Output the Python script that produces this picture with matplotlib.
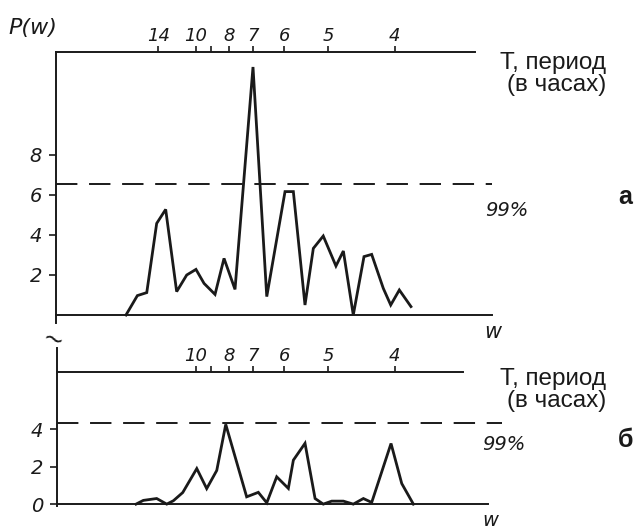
import matplotlib.pyplot as plt
import numpy as np

# Частота w (1/час) и спектральная мощность P(w), серия "а"
w_a = [0.0470, 0.0556, 0.0627, 0.0702, 0.0770, 0.0853, 0.0929, 0.0999, 0.1060,
       0.1143, 0.1211, 0.1294, 0.1430, 0.1534, 0.1672, 0.1735, 0.1823, 0.1886,
       0.1961, 0.2057, 0.2113, 0.2188, 0.2269, 0.2327, 0.2415, 0.2471, 0.2536,
       0.2624]
p_a = [0, 0.97, 1.12, 4.58, 5.28, 1.17, 2.0, 2.28, 1.58, 1.03, 2.83, 1.28, 12.4,
       0.92, 6.17, 6.17, 0.5, 3.33, 3.95, 2.45, 3.2, 0, 2.92, 3.03, 1.33, 0.5,
       1.25, 0.42]

# Серия "б"
w_b = [0.0546, 0.0601, 0.0702, 0.0778, 0.0828, 0.0899, 0.1005, 0.1080, 0.1156,
       0.1224, 0.1382, 0.1470, 0.1534, 0.1609, 0.1697, 0.1735, 0.1823, 0.1899,
       0.1961, 0.2025, 0.2113, 0.2188, 0.2264, 0.2327, 0.2473, 0.2554, 0.2642]
p_b = [0, 0.2, 0.3, 0, 0.18, 0.62, 1.9, 0.83, 1.8, 4.26, 0.39, 0.63, 0.07, 1.46,
       0.84, 2.35, 3.25, 0.3, 0, 0.16, 0.16, 0, 0.3, 0.09, 3.24, 1.1, 0]

# Уровни значимости 99%
level_a = 6.55
level_b = 4.33

# Периоды (часы) на верхней шкале
periods_a = [14, 10, 8, 7, 6, 5, 4]
periods_b = [10, 8, 7, 6, 5, 4]
minor_period = 9

yticks_a = [2, 4, 6, 8]
yticks_b = [0, 2, 4]

ink = "#1a1a1a"
num_font = ["Liberation Sans Narrow", "DejaVu Sans"]
txt_font = ["Liberation Sans", "DejaVu Sans"]

fig = plt.figure(figsize=(6.35, 5.30), dpi=100)
fig.patch.set_facecolor("white")


def setup(ax, xlim, ylim, periods, yticks):
    ax.set_xlim(*xlim)
    ax.set_ylim(*ylim)
    ax.set_facecolor("none")
    for s in ["right", "bottom"]:
        ax.spines[s].set_visible(False)
    for s in ["left", "top"]:
        ax.spines[s].set_linewidth(1.4)
        ax.spines[s].set_color(ink)
    ax.xaxis.tick_top()
    ax.set_xticks([1 / t for t in periods])
    ax.set_xticklabels([str(t) for t in periods], fontstyle="italic",
                       fontsize=13, family=num_font)
    ax.set_xticks([1 / minor_period], minor=True)
    ax.tick_params(axis="x", which="both", direction="out", length=4,
                   width=1.2, color=ink, pad=1, labelcolor=ink)
    ax.set_yticks(yticks)
    ax.set_yticklabels([str(v) for v in yticks], fontstyle="italic",
                       fontsize=14, family=num_font)
    ax.tick_params(axis="y", direction="out", length=5, width=1.2,
                   color=ink, pad=5, labelcolor=ink)


# Панель "а"
ax_a = fig.add_axes([56 / 635, 207 / 530, 419 / 635, 271 / 530])
setup(ax_a, (-0.0059, 0.3108), (-0.4, 13.15), periods_a, yticks_a)
ax_a.plot(w_a, p_a, color=ink, lw=2.0, solid_joinstyle="miter")
ax_a.plot([-0.0059, 0.3237], [0, 0], color=ink, lw=1.4, clip_on=False)
ax_a.plot([-0.0059, 0.3237], [level_a, level_a], color=ink, lw=1.4,
          linestyle=(0, (11, 6)), clip_on=False)

# Панель "б"
ax_b = fig.add_axes([57 / 635, 24 / 530, 406 / 635, 134 / 530])
setup(ax_b, (-0.00514, 0.3017), (-0.1, 7.06), periods_b, yticks_b)
ax_b.spines["left"].set_visible(False)
ax_b.plot([-0.00514, -0.00514], [-0.1, 8.34], color=ink, lw=1.4, clip_on=False)
ax_b.plot(w_b, p_b, color=ink, lw=2.0, solid_joinstyle="miter")
ax_b.plot([-0.00514, 0.3206], [0, 0], color=ink, lw=1.4, clip_on=False)
ax_b.plot([-0.00514, 0.3312], [level_b, level_b], color=ink, lw=1.4,
          linestyle=(0, (11, 6)), clip_on=False)

# Подписи
fig.text(8 / 635, 1 - 28 / 530, "P(w)", fontsize=16, fontstyle="italic",
         family=num_font, color=ink, ha="left", va="center")
for y in (74, 390):
    fig.text(606 / 635, 1 - y / 530, "Т, период\n(в часах)", fontsize=17.5,
             family=txt_font, color=ink, ha="right", va="center",
             multialignment="right", linespacing=1.05)
fig.text(485 / 635, 1 - 210 / 530, "99%", fontsize=14, fontstyle="italic",
         family=num_font, color=ink, ha="left", va="center")
fig.text(482 / 635, 1 - 445 / 530, "99%", fontsize=14, fontstyle="italic",
         family=num_font, color=ink, ha="left", va="center")
fig.text(625 / 635, 1 - 197 / 530, "а", fontsize=18, fontweight="bold",
         family=txt_font, color=ink, ha="center", va="center")
fig.text(626 / 635, 1 - 440 / 530, "б", fontsize=18, fontweight="bold",
         family=txt_font, color=ink, ha="center", va="center")
fig.text(493 / 635, 1 - 332 / 530, "w", fontsize=15, fontstyle="italic",
         family=num_font, color=ink, ha="center", va="center")
fig.text(490 / 635, 1 - 521 / 530, "w", fontsize=14, fontstyle="italic",
         family=num_font, color=ink, ha="center", va="center")
# Знак разрыва оси
fig.text(53 / 635, 1 - 340 / 530, "~", fontsize=18, color=ink,
         ha="center", va="center", rotation=-20)

fig.savefig("out.png", dpi=100, facecolor="white")
